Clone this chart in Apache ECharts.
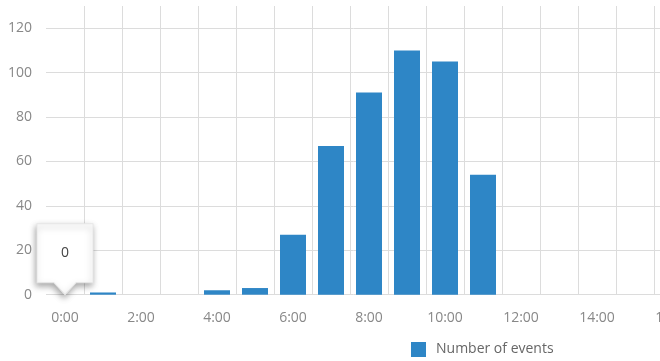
<!DOCTYPE html>
<html>
<head>
<meta charset="utf-8">
<script src="https://cdn.jsdelivr.net/npm/echarts@6/dist/echarts.min.js"></script>
<style>html,body{margin:0;padding:0;background:#fff;}#c{width:660px;height:361px;}</style>
</head>
<body>
<div id="c"></div>
<script>
const hours = ['0:00','1:00','2:00','3:00','4:00','5:00','6:00','7:00','8:00','9:00','10:00','11:00','12:00','13:00','14:00','15:00','16:00'];
const eventCounts = [0,1,0,0,2,3,27,67,91,110,105,54,0,0,0,0,0];
const yTicks = {min:0, max:130, interval:20};
const seriesName = 'Number of events';
const tooltipPoint = {hour:'0:00', value:0};

const chart = echarts.init(document.getElementById('c'), null, {renderer:'canvas'});
const font = '"Open Sans", "Noto Sans", sans-serif';
chart.setOption({
  animation:false,
  backgroundColor:'#fff',
  grid:{left:46, top:6, width:646, height:288.7, containLabel:false, outerBoundsMode:'none'},
  legend:{
    data:[seriesName], left:406, top:337, itemWidth:15, itemHeight:15,
    icon:'rect',
    textStyle:{color:'#666', fontSize:14, fontFamily:font, padding:[0,0,0,5]}
  },
  xAxis:{
    type:'category', data:hours, boundaryGap:true,
    axisLine:{show:false}, axisTick:{show:false},
    axisLabel:{interval:1, color:'#888', fontSize:14, fontFamily:font, margin:16, hideOverlap:false},
    splitLine:{show:true, interval:0, showMinLine:false, lineStyle:{color:'#dcdcdc', width:1}}
  },
  yAxis:{
    type:'value', min:yTicks.min, max:yTicks.max, interval:yTicks.interval,
    axisLine:{show:false}, axisTick:{show:false},
    axisLabel:{color:'#888', fontSize:14, fontFamily:font, margin:14, showMaxLabel:false},
    splitLine:{show:true, showMaxLine:false, lineStyle:{color:'#dcdcdc', width:1}}
  },
  series:[{
    name:seriesName, type:'bar', data:eventCounts, barWidth:26,
    itemStyle:{color:'#2e86c6'},
    markPoint:{
      symbol:'path://M0,0 L56,0 L56,59 L39,59 L28,71 L17,59 L0,59 Z',
      symbolSize:[56,71], symbolOffset:[0,'-50%'],
      itemStyle:{color:'#fff', borderColor:'#e6e6e6', borderWidth:1, shadowBlur:6, shadowOffsetY:3, shadowOffsetX:-1, shadowColor:'rgba(0,0,0,0.35)'},
      label:{show:true, color:'#444', fontSize:14, fontFamily:font, offset:[0,-6], formatter:function(p){return String(p.value);}},
      data:[{coord:[tooltipPoint.hour, tooltipPoint.value], value:tooltipPoint.value}]
    }
  }]
});
</script>
</body>
</html>
